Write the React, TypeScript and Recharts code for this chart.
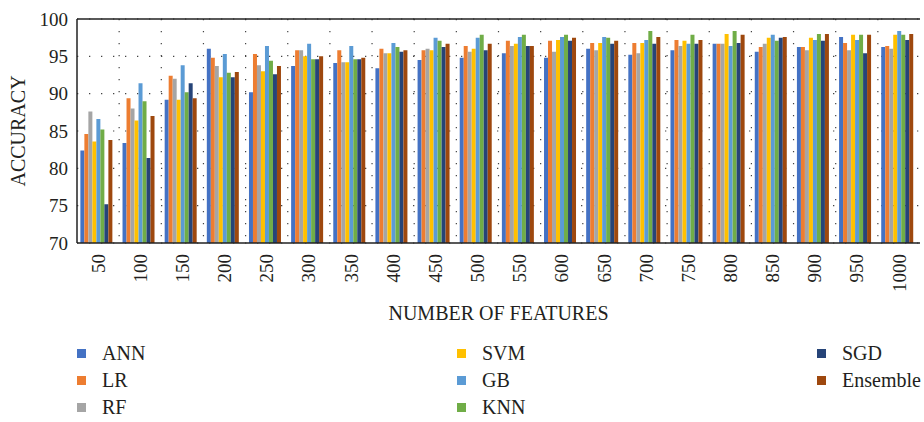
import React from 'react';
import { BarChart, Bar, XAxis, YAxis, CartesianGrid, ReferenceLine } from 'recharts';

const categories = ['50', '100', '150', '200', '250', '300', '350', '400', '450', '500', '550', '600', '650', '700', '750', '800', '850', '900', '950', '1000'];
const ann = [82.4, 83.4, 89.2, 96.0, 90.2, 93.7, 94.1, 93.4, 94.5, 94.8, 95.4, 94.8, 96.0, 95.2, 95.8, 96.7, 95.6, 96.25, 97.6, 96.25];
const lr = [84.6, 89.4, 92.4, 94.8, 95.3, 95.8, 95.8, 96.0, 95.8, 96.4, 97.1, 97.1, 96.8, 96.8, 97.2, 96.7, 96.25, 96.25, 96.8, 96.4];
const rf = [87.6, 88.0, 92.0, 93.7, 93.8, 95.8, 94.2, 95.4, 96.0, 95.6, 96.4, 95.6, 95.8, 95.4, 96.4, 96.7, 96.7, 95.8, 95.8, 96.0];
const svm = [83.6, 86.4, 89.2, 92.2, 93.0, 95.0, 94.2, 95.4, 95.8, 96.0, 96.7, 97.2, 96.8, 96.8, 97.1, 98.0, 97.5, 97.5, 97.9, 97.9];
const gb = [86.6, 91.4, 93.8, 95.3, 96.4, 96.7, 96.4, 96.8, 97.5, 97.5, 97.6, 97.6, 97.6, 97.2, 96.7, 96.4, 97.9, 97.2, 97.2, 98.4];
const knn = [85.2, 89.0, 90.2, 92.8, 94.4, 94.6, 94.6, 96.25, 97.1, 97.9, 97.9, 97.9, 97.5, 98.4, 97.9, 98.4, 97.1, 98.0, 97.9, 97.9];
const sgd = [75.2, 81.4, 91.4, 92.2, 92.6, 94.6, 94.6, 95.6, 96.25, 95.8, 96.4, 97.1, 96.7, 96.7, 96.7, 96.8, 97.5, 97.1, 95.4, 97.2];
const ensemble = [83.8, 87.0, 89.4, 92.9, 93.7, 95.0, 94.8, 95.8, 96.7, 96.7, 96.4, 97.5, 97.1, 97.6, 97.2, 97.9, 97.6, 98.0, 97.9, 98.0];
const yTicks = [70, 75, 80, 85, 90, 95, 100];

const series = [
  { key: 'ANN', color: '#4472C4', values: ann },
  { key: 'LR', color: '#ED7D31', values: lr },
  { key: 'RF', color: '#A5A5A5', values: rf },
  { key: 'SVM', color: '#FFC000', values: svm },
  { key: 'GB', color: '#5B9BD5', values: gb },
  { key: 'KNN', color: '#70AD47', values: knn },
  { key: 'SGD', color: '#264478', values: sgd },
  { key: 'Ensemble', color: '#9E480E', values: ensemble },
];

const data = categories.map((c, i) => {
  const row: Record<string, any> = { feature: c };
  series.forEach((s) => { row[s.key] = s.values[i]; });
  return row;
});

const FONT = '"Liberation Serif", "Times New Roman", serif';
const TEXT = '#231f20';

const XTick = (props: any) => {
  const { x, y, payload } = props;
  return (
    <text
      x={x}
      y={y}
      dy="0.35em"
      transform={`rotate(-90, ${x}, ${y})`}
      textAnchor="end"
      fontFamily={FONT}
      fontSize={19}
      fill={TEXT}
    >
      {payload.value}
    </text>
  );
};

const YLabel = (props: any) => {
  const vb = props.viewBox || {};
  const x = (vb.x || 0) + 18;
  const y = (vb.y || 0) + (vb.height || 0) / 2;
  return (
    <text
      x={x}
      y={y}
      dy="0.35em"
      transform={`rotate(-90, ${x}, ${y})`}
      textAnchor="middle"
      fontFamily={FONT}
      fontSize={20}
      fill={TEXT}
    >
      ACCURACY
    </text>
  );
};

const verticalGen = (props: any) => {
  const off = props.offset || {};
  const left = off.left ?? 77;
  const w = off.width ?? 843;
  const n = categories.length;
  const xs: number[] = [];
  for (let i = 1; i < n; i++) xs.push(left + (w * i) / n);
  return xs;
};

const legendCols = [series.slice(0, 3), series.slice(3, 6), series.slice(6, 8)];
const legendColX = [77, 457, 817];

export default function App() {
  return (
    <div style={{ position: 'absolute', left: 0, top: 0, width: 924, height: 422, background: '#fff' }}>
      <BarChart
        width={924}
        height={422}
        data={data}
        margin={{ top: 19, right: 4, left: 0, bottom: 99 }}
        barCategoryGap="8%"
        barGap={0}
      >
        <CartesianGrid
          stroke="#444"
          strokeWidth={1.2}
          strokeDasharray="1.3 10.7"
          horizontal={true}
          vertical={true}
          verticalCoordinatesGenerator={verticalGen}
        />
        <XAxis
          dataKey="feature"
          interval={0}
          tickLine={false}
          tickSize={0}
          tickMargin={11}
          axisLine={{ stroke: '#222', strokeWidth: 1.5 }}
          tick={<XTick />}
          height={80}
          label={{ value: 'NUMBER OF FEATURES', position: 'insideBottom', offset: 3, fontFamily: FONT, fontSize: 20, fill: TEXT }}
        />
        <YAxis
          yAxisId={0}
          domain={[70, 100]}
          ticks={yTicks}
          allowDataOverflow
          width={77}
          tickLine={false}
          tickSize={0}
          tickMargin={9}
          axisLine={{ stroke: '#222', strokeWidth: 1.5 }}
          tick={{ fontFamily: FONT, fontSize: 19, fill: TEXT }}
          label={<YLabel />}
        />
        <YAxis
          yAxisId="right"
          orientation="right"
          domain={[70, 100]}
          width={0}
          tick={false}
          tickLine={false}
          axisLine={{ stroke: '#222', strokeWidth: 1.5 }}
        />
        <ReferenceLine yAxisId={0} y={100} stroke="#222" strokeWidth={1.5} />
        {series.map((s) => (
          <Bar key={s.key} dataKey={s.key} fill={s.color} yAxisId={0} isAnimationActive={false} />
        ))}
      </BarChart>
      {legendCols.map((col, ci) => (
        <div key={ci} style={{ position: 'absolute', left: legendColX[ci], top: 340 }}>
          {col.map((s) => (
            <div key={s.key} style={{ display: 'flex', alignItems: 'center', height: 27, fontFamily: FONT, fontSize: 20, color: TEXT }}>
              <span style={{ display: 'inline-block', width: 9, height: 9, background: s.color, marginRight: 16 }} />
              <span>{s.key}</span>
            </div>
          ))}
        </div>
      ))}
    </div>
  );
}
